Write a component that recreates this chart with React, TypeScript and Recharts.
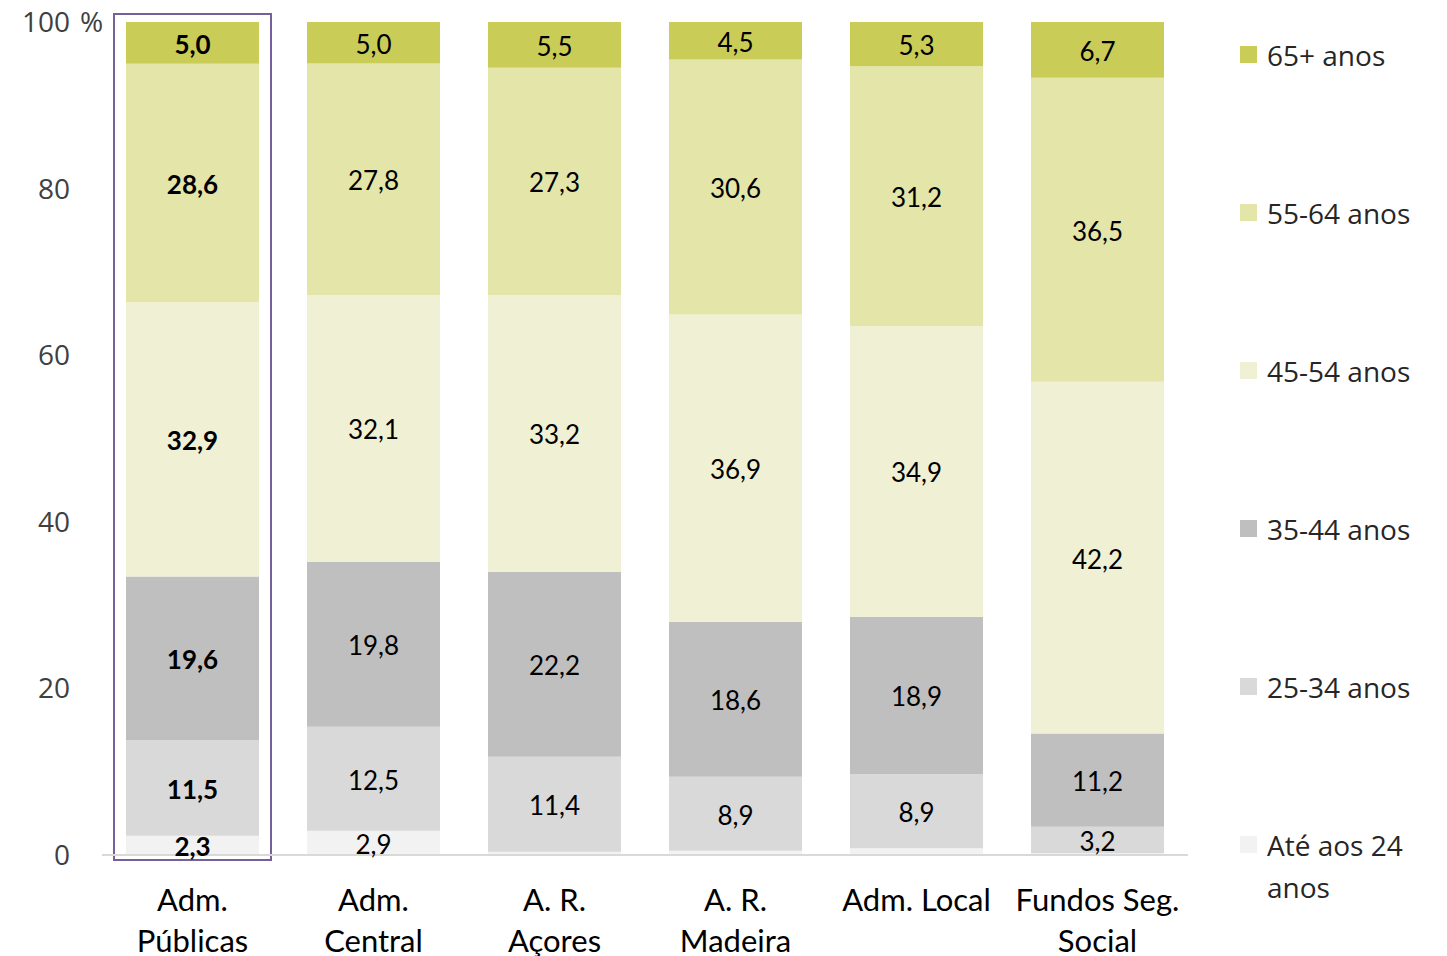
import React from 'react';
import { BarChart, Bar, XAxis, YAxis, LabelList, ReferenceArea } from 'recharts';

const categories = ['Adm. Públicas', 'Adm. Central', 'A. R. Açores', 'A. R. Madeira', 'Adm. Local', 'Fundos Seg. Social'];
const tickLines = [['Adm.', 'Públicas'], ['Adm.', 'Central'], ['A. R.', 'Açores'], ['A. R.', 'Madeira'], ['Adm. Local'], ['Fundos Seg.', 'Social']];

const ate24 = [2.3, 2.9, 0.4, 0.5, 0.8, 0.2];
const a25_34 = [11.5, 12.5, 11.4, 8.9, 8.9, 3.2];
const a35_44 = [19.6, 19.8, 22.2, 18.6, 18.9, 11.2];
const a45_54 = [32.9, 32.1, 33.2, 36.9, 34.9, 42.2];
const a55_64 = [28.6, 27.8, 27.3, 30.6, 31.2, 36.5];
const a65 = [5.0, 5.0, 5.5, 4.5, 5.3, 6.7];

const yTicks = [0, 20, 40, 60, 80, 100];

// bottom to top
const series = [
    { key: 'ate24', name: 'Até aos 24 anos', values: ate24, color: '#f2f2f2' },
    { key: 'a25_34', name: '25-34 anos', values: a25_34, color: '#d9d9d9' },
    { key: 'a35_44', name: '35-44 anos', values: a35_44, color: '#bfbfbf' },
    { key: 'a45_54', name: '45-54 anos', values: a45_54, color: '#f0f1d4' },
    { key: 'a55_64', name: '55-64 anos', values: a55_64, color: '#e4e5a8' },
    { key: 'a65', name: '65+ anos', values: a65, color: '#cacc58' },
];

const data = categories.map((name, i) => {
    const row: Record<string, any> = { name };
    series.forEach(s => { row[s.key] = s.values[i]; });
    return row;
});

const fmt = (v: number) => v.toFixed(1).replace('.', ',');

const makeLabel = (values: number[]) => (props: any) => {
    const { x, y, width, height, index } = props;
    const v = values[index];
    if (v < 1) return null;
    return (
        <text
            x={x + width / 2}
            y={y + height / 2}
            dy="0.42em"
            textAnchor="middle"
            fontFamily="Lato"
            fontSize={26}
            fontWeight={index === 0 ? 700 : 400}
            fill="#000"
        >
            {fmt(v)}
        </text>
    );
};

const YTick = (props: any) => {
    const { x, y, payload } = props;
    const v = Math.round(payload.value * 100);
    return (
        <g>
            <text x={x} y={y} dy="0.36em" textAnchor="end" fontFamily="Open Sans" fontSize={28} fill="#404040">{v}</text>
            {v === 100 && (
                <text x={x + 10} y={y} dy="0.36em" textAnchor="start" fontFamily="Open Sans" fontSize={28} fill="#404040">%</text>
            )}
        </g>
    );
};

const XTick = (props: any) => {
    const { x, y, index } = props;
    const lines = tickLines[index] || [];
    return (
        <text textAnchor="middle" fontFamily="Lato" fontSize={31} fill="#000">
            {lines.map((l, i) => (
                <tspan key={i} x={x} y={y + 48 + i * 41}>{l}</tspan>
            ))}
        </text>
    );
};

const LegendBox = () => (
    <div style={{ position: 'absolute', left: 1240, top: 34, display: 'flex', flexDirection: 'column', fontFamily: 'Open Sans', fontSize: 28, color: '#262626' }}>
        {[...series].reverse().map(s => (
            <div key={s.key} style={{ display: 'flex', alignItems: 'flex-start', height: 158 }}>
                <span style={{ display: 'inline-block', width: 17, height: 17, background: s.color, marginRight: 10, marginTop: 12 }} />
                <span style={{ width: 175, lineHeight: '42px' }}>{s.name}</span>
            </div>
        ))}
    </div>
);

const Highlight = (props: any) => {
    const { x, y, width, height } = props;
    return <rect x={x + 12} y={y - 8} width={width - 24} height={height + 13} fill="none" stroke="#76609a" strokeWidth={2} />;
};

export default function App() {
    return (
        <div style={{ position: 'absolute', left: 0, top: 0, width: 1447, height: 956, background: '#fff' }}>
            <BarChart
                width={1447}
                height={956}
                data={data}
                stackOffset="expand"
                margin={{ top: 22, right: 259, left: 0, bottom: 0 }}
                barSize={133}
            >
                <XAxis dataKey="name" height={101} tick={<XTick />} tickLine={false} axisLine={{ stroke: '#d9d9d9', strokeWidth: 2 }} interval={0} />
                <YAxis width={102} domain={[0, 1]} ticks={yTicks.map(t => t / 100)} tick={<YTick />} tickLine={false} axisLine={false} tickMargin={26} />
                {series.map(s => (
                    <Bar key={s.key} dataKey={s.key} name={s.name} stackId="a" fill={s.color} isAnimationActive={false}>
                        <LabelList dataKey={s.key} content={makeLabel(s.values)} />
                    </Bar>
                ))}
                <ReferenceArea x1={categories[0]} x2={categories[0]} y1={0} y2={1} shape={<Highlight />} />
            </BarChart>
            <LegendBox />
        </div>
    );
}
